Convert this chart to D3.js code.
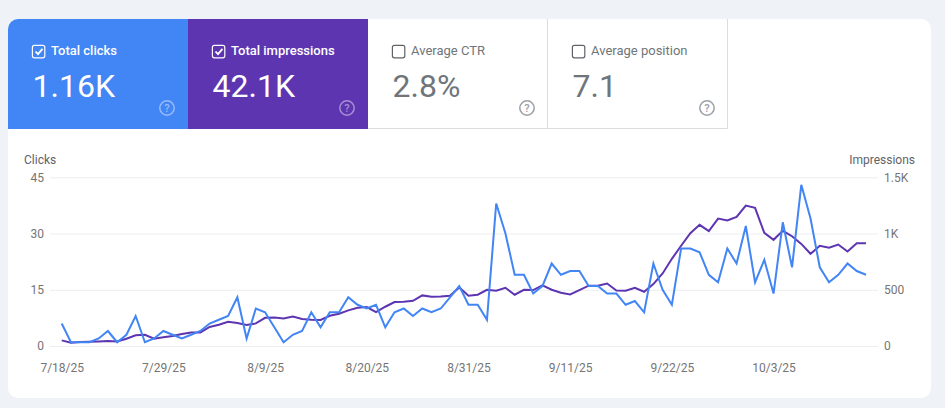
<!DOCTYPE html>
<html>
<head>
<meta charset="utf-8">
<script src="https://cdnjs.cloudflare.com/ajax/libs/d3/7.8.5/d3.min.js"></script>
<style>
  html, body { margin: 0; padding: 0; background: #eff3f8; }
  svg { display: block; font-family: Roboto, sans-serif; }
</style>
</head>
<body>
<svg id="chart" width="945" height="408"></svg>
<script>
const cardTitles = ['Total clicks', 'Total impressions', 'Average CTR', 'Average position'];
const cardValues = ['1.16K', '42.1K', '2.8%', '7.1'];
const cardChecked = [true, true, false, false];
const cardColors = ['#4285f4', '#5e35b1', '#ffffff', '#ffffff'];

const clicks = [6, 1, 1, 1, 2, 4, 1, 3, 8, 1, 2, 4, 3, 2, 3, 4, 6, 7, 8, 13, 2, 10, 9, 5, 1, 3, 4, 9, 5, 9,
  9, 13, 11, 10, 11, 5, 9, 10, 8, 10, 9, 10, 13, 16, 11, 11, 7, 38, 30, 19, 19, 14, 16, 22, 19, 20, 20, 16, 16, 14,
  14, 11, 12, 9, 22, 15, 11, 26, 26, 25, 19, 17, 26, 22, 32, 17, 23, 14, 33, 21, 43, 34, 21, 17, 19, 22, 20, 19];
const impressions = [50, 30, 35, 38, 41, 44, 41, 65, 95, 100, 65, 77, 89, 107, 121, 121, 169, 189, 216, 204, 186, 201, 251, 254, 245, 263, 240, 234, 231, 269,
  287, 317, 340, 346, 302, 349, 391, 394, 402, 450, 438, 441, 447, 521, 447, 456, 500, 491, 518, 456, 500, 497, 539, 500, 473, 459, 497, 536, 536, 556,
  494, 491, 518, 482, 550, 645, 775, 891, 1003, 1077, 1021, 1133, 1116, 1148, 1249, 1228, 1006, 944, 1024, 976, 908, 820, 891, 873, 902, 840, 914, 914];

const startDate = Date.UTC(2025, 6, 18);
const dayMs = 86400000;
const dates = clicks.map((d, i) => new Date(startDate + i * dayMs));
const tickDates = [0, 11, 22, 33, 44, 55, 66, 77].map(i => dates[i]);
const clickTicks = [0, 15, 30, 45];
const impressionTicks = [0, 500, 1000, 1500];
const impressionLabels = ['0', '500', '1K', '1.5K'];

const svg = d3.select('#chart');

// white card behind everything
svg.append('rect')
  .attr('x', 8).attr('y', 19)
  .attr('width', 923).attr('height', 379)
  .attr('rx', 10)
  .attr('fill', '#ffffff');

const cardW = 180, cardH = 110;
const cards = svg.selectAll('g.card')
  .data(cardTitles)
  .enter().append('g')
  .attr('class', 'card')
  .attr('transform', (d, i) => `translate(${8 + i * cardW}, 19)`);

// first tile has a rounded top left corner
cards.append('path')
  .attr('d', (d, i) => i === 0
    ? `M0,${cardH}V10A10,10 0 0 1 10,0H${cardW}V${cardH}Z`
    : `M0,0H${cardW}V${cardH}H0Z`)
  .attr('fill', (d, i) => cardColors[i]);

// grey borders of the unchecked tiles
cards.filter((d, i) => !cardChecked[i]).append('path')
  .attr('d', `M0,${cardH - 0.5}H${cardW - 0.5}V0`)
  .attr('fill', 'none')
  .attr('stroke', '#dadce0');

cards.append('rect')
  .attr('x', 24.4).attr('y', 26.4)
  .attr('width', 12.4).attr('height', 12.4)
  .attr('rx', 2)
  .attr('fill', 'none')
  .attr('stroke', (d, i) => cardChecked[i] ? '#ffffff' : '#5f6368')
  .attr('stroke-width', 1.2);

cards.filter((d, i) => cardChecked[i]).append('path')
  .attr('d', 'M27.5,32.5L30,35.2L34.5,29.8')
  .attr('fill', 'none')
  .attr('stroke', '#ffffff')
  .attr('stroke-width', 1.8);

cards.append('text')
  .attr('x', 43).attr('y', 36)
  .attr('font-size', 13)
  .attr('font-weight', (d, i) => cardChecked[i] ? 500 : 400)
  .attr('fill', (d, i) => cardChecked[i] ? '#ffffff' : '#70757a')
  .text(d => d);

cards.append('text')
  .attr('x', 24.5).attr('y', 78)
  .attr('font-size', 32)
  .attr('fill', (d, i) => cardChecked[i] ? '#ffffff' : '#70757a')
  .text((d, i) => cardValues[i]);

cards.append('circle')
  .attr('cx', 159).attr('cy', 89)
  .attr('r', 7.2)
  .attr('fill', 'none')
  .attr('stroke', (d, i) => cardChecked[i] ? 'rgba(255,255,255,0.45)' : '#9aa0a6')
  .attr('stroke-width', 1.5);

cards.append('text')
  .attr('x', 159).attr('y', 93)
  .attr('text-anchor', 'middle')
  .attr('font-size', 11)
  .attr('font-weight', 500)
  .attr('fill', (d, i) => cardChecked[i] ? 'rgba(255,255,255,0.45)' : '#9aa0a6')
  .text('?');

// chart
const x = d3.scaleUtc().domain(d3.extent(dates)).range([61.7, 866]);
const yClicks = d3.scaleLinear().domain([0, 45]).range([346, 177.3]);
const yImpressions = d3.scaleLinear().domain([0, 1500]).range([346, 177.3]);

const styleAxis = g => {
  g.select('.domain').remove();
  g.selectAll('text').attr('fill', '#757575').attr('font-size', 12).attr('font-family', 'Roboto, sans-serif');
};

svg.append('g')
  .attr('transform', 'translate(50, 0)')
  .call(d3.axisLeft(yClicks).tickValues(clickTicks).tickSize(-828).tickPadding(6))
  .call(styleAxis)
  .call(g => g.selectAll('line').attr('stroke', '#ebedef'));

svg.append('g')
  .attr('transform', 'translate(878, 0)')
  .call(d3.axisRight(yImpressions).tickValues(impressionTicks)
    .tickFormat((d, i) => impressionLabels[i]).tickSize(0).tickPadding(6))
  .call(styleAxis);

svg.append('g')
  .attr('transform', 'translate(0, 346)')
  .call(d3.axisBottom(x).tickValues(tickDates).tickSize(0).tickPadding(17)
    .tickFormat(d3.utcFormat('%-m/%-d/%y')))
  .call(styleAxis);

svg.append('text')
  .attr('x', 24).attr('y', 164)
  .attr('font-size', 12).attr('fill', '#5f6368')
  .text('Clicks');

svg.append('text')
  .attr('x', 915).attr('y', 164)
  .attr('text-anchor', 'end')
  .attr('font-size', 12).attr('fill', '#5f6368')
  .text('Impressions');

const impressionLine = d3.line().x((d, i) => x(dates[i])).y(d => yImpressions(d));
const clickLine = d3.line().x((d, i) => x(dates[i])).y(d => yClicks(d));

svg.append('path')
  .datum(impressions)
  .attr('d', impressionLine)
  .attr('fill', 'none')
  .attr('stroke', '#5e35b1')
  .attr('stroke-width', 2);

svg.append('path')
  .datum(clicks)
  .attr('d', clickLine)
  .attr('fill', 'none')
  .attr('stroke', '#4285f4')
  .attr('stroke-width', 2);
</script>
</body>
</html>
